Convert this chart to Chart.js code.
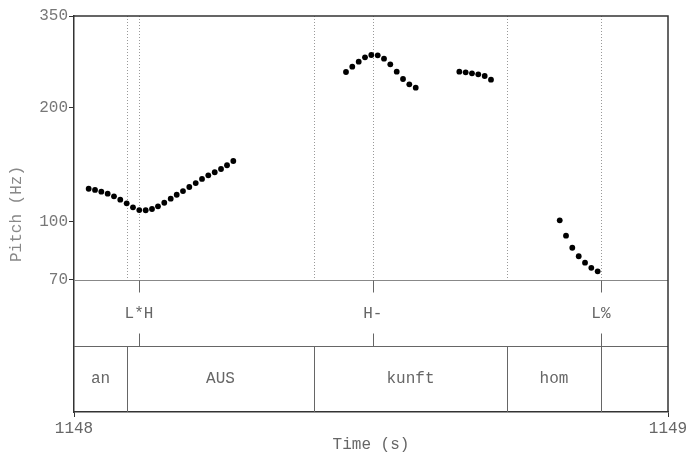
<!DOCTYPE html>
<html>
<head>
<meta charset="utf-8">
<script src="https://cdn.jsdelivr.net/npm/chart.js@4.4.1/dist/chart.umd.min.js"></script>
<style>
  html, body { margin: 0; padding: 0; background: #fff; }
  #wrap { width: 690px; height: 457px; }
</style>
</head>
<body>
<div id="wrap"><canvas id="pitchChart"></canvas></div>
<script>
// pitch track, one array per voiced stretch (time in s, f0 in Hz)
var seg1Time = [1148.0247, 1148.0354, 1148.0460, 1148.0567, 1148.0673, 1148.0779, 1148.0887, 1148.0993,
                1148.1099, 1148.1207, 1148.1313, 1148.1414, 1148.1520, 1148.1628, 1148.1729, 1148.1835,
                1148.1941, 1148.2049, 1148.2155, 1148.2261, 1148.2369, 1148.2475, 1148.2576, 1148.2682];
var seg1Hz   = [122.1, 121.2, 119.9, 118.5, 116.6, 114.2, 111.7, 109.0,
                107.2, 107.1, 107.9, 109.7, 112.1, 114.9, 117.7, 120.4,
                123.4, 126.4, 129.6, 132.5, 135.0, 137.7, 140.9, 144.6];
var seg2Time = [1148.4579, 1148.4685, 1148.4793, 1148.4899, 1148.5005, 1148.5113,
                1148.5219, 1148.5325, 1148.5433, 1148.5539, 1148.5645, 1148.5753];
var seg2Hz   = [248.8, 257.0, 264.9, 272.1, 275.9, 275.4, 269.8, 260.7, 249.3, 238.4, 230.8, 226.1];
var seg3Time = [1148.6487, 1148.6594, 1148.6700, 1148.6806, 1148.6914, 1148.7020];
var seg3Hz   = [249.3, 248.3, 246.8, 245.3, 242.8, 237.4];
var seg4Time = [1148.8177, 1148.8283, 1148.8389, 1148.8497, 1148.8603, 1148.8709, 1148.8816];
var seg4Hz   = [100.7, 91.7, 85.2, 80.9, 77.8, 75.4, 73.8];

// annotation tiers
var toneLabels = ['L*H', 'H-', 'L%'];
var toneTimes  = [1148.1094, 1148.5030, 1148.8870];
var wordLabels = ['an', 'AUS', 'kunft', 'hom', ''];
var wordBounds = [1148.0, 1148.0892, 1148.4040, 1148.7290, 1148.8870, 1149.0];

var yTicks = [70, 100, 200, 350];
var xTicks = [1148, 1149];
var yMin = 70, yMax = 350;

function toPoints(ts, hz) {
  return ts.map(function(t, i) { return { x: t, y: hz[i] }; });
}

var MONO = '"Liberation Mono", "Courier New", monospace';

var tierPlugin = {
  id: 'tiers',
  beforeDatasetsDraw: function(chart) {
    var ctx = chart.ctx, a = chart.chartArea;
    var xs = chart.scales.x, ys = chart.scales.y;
    var yPitch = Math.round(ys.getPixelForValue(yMin)) + 0.5;
    var yMid = Math.round((yPitch + a.bottom) / 2) + 0.5;
    var px = function(t) { return Math.round(xs.getPixelForValue(t)) + 0.5; };
    ctx.save();

    // dotted guides in the pitch panel
    ctx.strokeStyle = '#999';
    ctx.lineWidth = 1;
    ctx.setLineDash([1, 2]);
    var guides = wordBounds.slice(1, -1).concat(toneTimes);
    guides.forEach(function(t) {
      ctx.beginPath();
      ctx.moveTo(px(t), a.top);
      ctx.lineTo(px(t), yPitch);
      ctx.stroke();
    });
    ctx.setLineDash([]);

    // tier separators
    ctx.strokeStyle = '#888';
    ctx.beginPath();
    ctx.moveTo(a.left, yPitch); ctx.lineTo(a.right, yPitch);
    ctx.stroke();
    ctx.strokeStyle = '#666';
    ctx.beginPath();
    ctx.moveTo(a.left, yMid); ctx.lineTo(a.right, yMid);
    ctx.stroke();

    // tone tier: short ticks + labels
    ctx.fillStyle = '#666';
    ctx.font = '16px ' + MONO;
    ctx.textAlign = 'center';
    ctx.textBaseline = 'middle';
    toneTimes.forEach(function(t, i) {
      ctx.beginPath();
      ctx.moveTo(px(t), yPitch); ctx.lineTo(px(t), yPitch + 12);
      ctx.moveTo(px(t), yMid - 13); ctx.lineTo(px(t), yMid);
      ctx.stroke();
      ctx.fillText(toneLabels[i], xs.getPixelForValue(t), (yPitch + yMid) / 2);
    });

    // word tier: boundaries + labels
    wordBounds.slice(1, -1).forEach(function(t) {
      ctx.beginPath();
      ctx.moveTo(px(t), yMid); ctx.lineTo(px(t), a.bottom);
      ctx.stroke();
    });
    wordLabels.forEach(function(w, i) {
      var cx = (xs.getPixelForValue(wordBounds[i]) + xs.getPixelForValue(wordBounds[i + 1])) / 2;
      ctx.fillText(w, cx, (yMid + a.bottom) / 2);
    });

    // outer box top / right
    ctx.strokeStyle = '#333';
    ctx.lineWidth = 1.5;
    ctx.beginPath();
    ctx.moveTo(a.left, a.top); ctx.lineTo(a.right, a.top); ctx.lineTo(a.right, a.bottom);
    ctx.stroke();
    ctx.restore();
  }
};

var ctx = document.getElementById('pitchChart').getContext('2d');
var dotStyle = { showLine: false, pointRadius: 2.9, pointHoverRadius: 2.9,
                 pointBackgroundColor: '#000', pointBorderWidth: 0 };

var chart = new Chart(ctx, {
  type: 'scatter',
  data: {
    datasets: [
      Object.assign({ label: 'f0 1', data: toPoints(seg1Time, seg1Hz) }, dotStyle),
      Object.assign({ label: 'f0 2', data: toPoints(seg2Time, seg2Hz) }, dotStyle),
      Object.assign({ label: 'f0 3', data: toPoints(seg3Time, seg3Hz) }, dotStyle),
      Object.assign({ label: 'f0 4', data: toPoints(seg4Time, seg4Hz) }, dotStyle)
    ]
  },
  options: {
    responsive: true,
    maintainAspectRatio: false,
    animation: false,
    layout: { padding: { top: 16, right: 22, left: 0, bottom: 0 } },
    plugins: { legend: { display: false }, tooltip: { enabled: false } },
    scales: {
      x: {
        type: 'linear',
        min: 1148, max: 1149,
        afterBuildTicks: function(s) { s.ticks = xTicks.map(function(v) { return { value: v }; }); },
        afterFit: function(s) { s.height = 45; },
        ticks: {
          color: '#666', font: { family: MONO, size: 16 }, padding: 2, maxRotation: 0,
          callback: function(v) { return String(v); }
        },
        grid: { drawOnChartArea: false, tickLength: 5, color: '#333' },
        border: { color: '#333', width: 1.5 },
        title: { display: true, text: 'Time (s)', color: '#666',
                 font: { family: MONO, size: 16 }, padding: { top: 0, bottom: 3 } }
      },
      y: {
        type: 'logarithmic',
        // extend below 70 Hz so the two text tiers get the lower third of the box
        min: yMin / Math.sqrt(yMax / yMin), max: yMax,
        afterBuildTicks: function(s) { s.ticks = yTicks.map(function(v) { return { value: v }; }); },
        afterFit: function(s) { s.width = 74; },
        ticks: {
          color: '#777', font: { family: MONO, size: 16 }, padding: 1,
          callback: function(v) { return String(v); }
        },
        grid: { drawOnChartArea: false, tickLength: 5, color: '#333' },
        border: { color: '#333', width: 1.5 },
        title: { display: true, text: 'Pitch (Hz)', color: '#888',
                 font: { family: MONO, size: 16 }, padding: { top: 7, bottom: 0 } }
      }
    }
  },
  plugins: [tierPlugin]
});
</script>
</body>
</html>
